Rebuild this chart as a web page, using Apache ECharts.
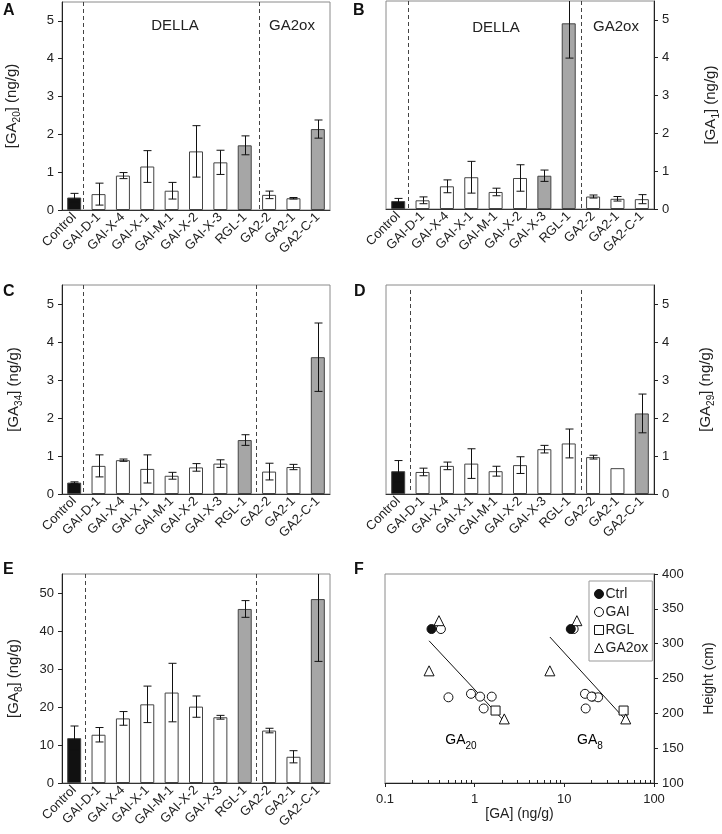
<!DOCTYPE html>
<html><head><meta charset="utf-8">
<script src="https://cdn.jsdelivr.net/npm/echarts@6/dist/echarts.min.js"></script>
<style>html,body{margin:0;padding:0;background:#fff}#c{width:722px;height:834px}</style>
</head><body><div id="c"></div>
<script>
// ---------- data ----------
const categories = ['Control','GAI-D-1','GAI-X-4','GAI-X-1','GAI-M-1','GAI-X-2','GAI-X-3','RGL-1','GA2-2','GA2-1','GA2-C-1'];
const ga20    = [0.33,0.42,0.91,1.15,0.51,1.55,1.26,1.71,0.40,0.31,2.14];
const ga20Err = [0.11,0.29,0.08,0.42,0.22,0.68,0.32,0.25,0.10,0.02,0.24];
const ga1     = [0.21,0.23,0.60,0.84,0.45,0.82,0.88,4.91,0.33,0.27,0.26];
const ga1Err  = [0.07,0.09,0.17,0.42,0.10,0.35,0.15,0.92,0.04,0.06,0.12];
const ga34    = [0.30,0.74,0.89,0.66,0.48,0.70,0.80,1.42,0.59,0.71,3.60];
const ga34Err = [0.02,0.29,0.03,0.37,0.09,0.10,0.10,0.14,0.22,0.07,0.90];
const ga29    = [0.60,0.58,0.74,0.80,0.60,0.76,1.18,1.33,0.97,0.68,2.12];
const ga29Err = [0.28,0.10,0.10,0.39,0.13,0.22,0.10,0.38,0.05,0.00,0.51];
const ga8     = [11.8,12.7,17.0,20.7,23.8,20.1,17.3,45.8,13.8,6.9,48.4];
const ga8Err  = [3.2,1.9,1.8,4.8,7.7,2.8,0.5,2.2,0.6,1.6,16.4];
const plantHeight = [321,321,228,224,223,224,207,204,333,261,192];
const lineGroup = ['Ctrl','GAI','GAI','GAI','GAI','GAI','GAI','RGL','GA2ox','GA2ox','GA2ox'];
const grayA = ['RGL-1','GA2-C-1'];
const grayB = ['GAI-X-3','RGL-1'];
const grayC = ['RGL-1','GA2-C-1'];
const grayD = ['GA2-C-1'];
const grayE = ['RGL-1','GA2-C-1'];
const sepA = [0.37,7.58];
const sepB = [0.39,7.5];
const sepC = [0.37,7.46];
const sepD = [0.48,7.49];
const sepE = [0.46,7.45];
const yTicks5 = [0,1,2,3,4,5];
const yTicksE = [0,10,20,30,40,50];
const fTicksY = [100,150,200,250,300,350,400];
const minorTicksX = [0.2,0.3,0.4,0.5,0.6,0.7,0.8,0.9,2,3,4,5,6,7,8,9,20,30,40,50,60,70,80,90];
const groupNames = ['Ctrl','GAI','RGL','GA2ox'];

// ---------- styling ----------
const FF = '"Liberation Sans", Arial, sans-serif';
const TXT = '#222';
function richFor(fs){
  return {
    n:{fontSize:fs, lineHeight:fs + 2, verticalAlign:'top', color:TXT, fontFamily:FF},
    s:{fontSize:Math.round(fs*0.68), lineHeight:Math.round(fs*0.68), verticalAlign:'top', padding:[Math.round(fs*0.55),0,0,0], color:TXT, fontFamily:FF}
  };
}
const nameRich = richFor(15);
const labRich = richFor(14);
function subName(pre, sub, post){ return '{n|'+pre+'}{s|'+sub+'}{n|'+post+'}'; }

const panels = [
  {vals:ga20, errs:ga20Err, gray:grayA, sep:sepA, inset:[0,0], ticks:yTicks5, max:5.5, side:'left',  nameGap:41, name:subName('[GA','20','] (ng/g)'), grid:{left:62, top:2, width:268, height:208}},
  {vals:ga1,  errs:ga1Err,  gray:grayB, sep:sepB, inset:[0,0], ticks:yTicks5, max:5.5, side:'right', nameGap:49, name:subName('[GA','1','] (ng/g)'),  grid:{left:386, top:1, width:268, height:208}},
  {vals:ga34, errs:ga34Err, gray:grayC, sep:sepC, inset:[0,0], ticks:yTicks5, max:5.5, side:'left',  nameGap:39, name:subName('[GA','34','] (ng/g)'), grid:{left:62, top:285, width:268, height:209}},
  {vals:ga29, errs:ga29Err, gray:grayD, sep:sepD, inset:[5,4], ticks:yTicks5, max:5.5, side:'right', nameGap:44, name:subName('[GA','29','] (ng/g)'), grid:{left:386, top:285, width:268, height:209}},
  {vals:ga8,  errs:ga8Err,  gray:grayE, sep:sepE, inset:[0,0], ticks:yTicksE, max:55,  side:'left',  nameGap:39, name:subName('[GA','8','] (ng/g)'),  grid:{left:62, top:574, width:268, height:209}}
];

const grids = [], xAxes = [], yAxes = [], series = [];
panels.forEach((p, i) => {
  grids.push(Object.assign({show:true, borderColor:'#8a8a8a', borderWidth:1, backgroundColor:'transparent'}, p.grid));
  xAxes.push({type:'category', gridIndex:i, data:categories, boundaryGap:true,
    axisLine:{show:true, lineStyle:{color:'#333', width:1}}, axisTick:{show:false},
    axisLabel:{interval:0, rotate:45, fontSize:13, color:TXT, fontFamily:FF, margin:5}});
  yAxes.push({type:'value', gridIndex:i, position:p.side, min:0, max:p.max, interval:p.ticks[1]-p.ticks[0],
    axisLine:{show:true, lineStyle:{color:'#222', width:1}},
    axisTick:{show:true, length:4, lineStyle:{color:'#222'}, customValues:p.ticks},
    axisLabel:{customValues:p.ticks, fontSize:13, color:TXT, fontFamily:FF, margin:8},
    splitLine:{show:false},
    name:p.name, nameLocation:'middle', nameRotate:90, nameGap:p.nameGap,
    nameTextStyle:{rich:nameRich}});
  // separators
  const sep = p.sep;
  series.push({type:'custom', xAxisIndex:i, yAxisIndex:i, silent:true, z:1,
    data: sep.map(v => [Math.floor(v), 0]),
    renderItem:(params, api) => {
      const v = sep[params.dataIndex];
      const i0 = Math.floor(v);
      const c = api.coord([i0, 0]);
      const bw = api.size([1, 0])[0];
      const x = Math.round(c[0] + (v - i0) * bw) + 0.5;
      const yt = api.coord([i0, p.max])[1] + p.inset[0];
      return {type:'line', shape:{x1:x, y1:yt, x2:x, y2:c[1] - p.inset[1]},
        style:{stroke:'#444', lineWidth:1, lineDash:[4,3]}};
    }});
  // bars
  series.push({type:'bar', xAxisIndex:i, yAxisIndex:i, barWidth:14, silent:true, z:2,
    itemStyle:{borderColor:'#444', borderWidth:1},
    data: p.vals.map((v, j) => ({value:v, itemStyle:{color: j === 0 ? '#111' : (p.gray.indexOf(categories[j]) >= 0 ? '#a6a6a6' : '#ffffff')}}))});
  // error bars
  series.push({type:'custom', xAxisIndex:i, yAxisIndex:i, silent:true, z:3,
    data: p.vals.map((v, j) => [j, v, p.errs[j]]),
    renderItem:(params, api) => {
      const x = api.value(0), v = api.value(1), e = api.value(2);
      if (!e) return null;
      const topLim = api.coord([x, p.max])[1];
      const t = api.coord([x, v + e]);
      const b = api.coord([x, Math.max(v - e, 0)]);
      const clipped = t[1] < topLim;
      const ty = clipped ? topLim : t[1];
      const cx = Math.round(t[0]) + 0.5, w = 4;
      const st = {stroke:'#111', lineWidth:1};
      const ch = [{type:'line', shape:{x1:cx, y1:ty, x2:cx, y2:b[1]}, style:st},
                  {type:'line', shape:{x1:cx - w, y1:b[1], x2:cx + w, y2:b[1]}, style:st}];
      if (!clipped) ch.push({type:'line', shape:{x1:cx - w, y1:ty, x2:cx + w, y2:ty}, style:st});
      return {type:'group', children:ch};
    }});
});

// ---------- panel F ----------
const fi = 5;
grids.push({show:true, borderColor:'#8a8a8a', borderWidth:1, left:385, top:574, width:269, height:209});
xAxes.push({type:'log', gridIndex:fi, logBase:10, min:0.1, max:100,
  axisLine:{show:true, lineStyle:{color:'#222'}},
  axisTick:{show:true, length:4, lineStyle:{color:'#222'}},
  axisLabel:{fontSize:13, color:TXT, fontFamily:FF, margin:10, formatter: v => String(+v.toPrecision(3))},
  splitLine:{show:false}, minorTick:{show:false},
  name:'[GA] (ng/g)', nameLocation:'middle', nameGap:24, nameTextStyle:{fontSize:14, color:TXT, fontFamily:FF}});
yAxes.push({type:'value', gridIndex:fi, position:'right', min:100, max:400, interval:50,
  axisLine:{show:true, lineStyle:{color:'#222'}},
  axisTick:{show:true, length:4, lineStyle:{color:'#222'}, customValues:fTicksY},
  axisLabel:{customValues:fTicksY, fontSize:13, color:TXT, fontFamily:FF, margin:8},
  splitLine:{show:false},
  name:'Height (cm)', nameLocation:'middle', nameRotate:90, nameGap:48, nameTextStyle:{fontSize:14, color:TXT, fontFamily:FF}});

// minor ticks for log axis
series.push({type:'custom', xAxisIndex:fi, yAxisIndex:fi, silent:true,
  data: minorTicksX.map(v => [v, 100]),
  renderItem:(params, api) => {
    const c = api.coord([api.value(0), 100]);
    const x = Math.round(c[0]) + 0.5;
    return {type:'line', shape:{x1:x, y1:c[1], x2:x, y2:c[1] - 3}, style:{stroke:'#222', lineWidth:1}};
  }});

function fitLine(xs, ys){
  const lx = xs.map(v => Math.log10(v));
  const n = lx.length;
  const mx = lx.reduce((a,b)=>a+b,0)/n, my = ys.reduce((a,b)=>a+b,0)/n;
  let sxy = 0, sxx = 0;
  for (let k = 0; k < n; k++){ sxy += (lx[k]-mx)*(ys[k]-my); sxx += (lx[k]-mx)*(lx[k]-mx); }
  const b = sxy / sxx, a = my - b * mx;
  const x0 = Math.min(...xs), x1 = Math.max(...xs);
  return [[x0, a + b*Math.log10(x0)], [x1, a + b*Math.log10(x1)]];
}
[ga20, ga8].forEach(arr => {
  series.push({type:'line', xAxisIndex:fi, yAxisIndex:fi, silent:true, symbol:'none', z:2,
    lineStyle:{color:'#111', width:1}, data: fitLine(arr, plantHeight)});
});

const symbolOf = {Ctrl:'circle', GAI:'circle', RGL:'rect', GA2ox:'triangle'};
const sizeOf = {Ctrl:9, GAI:9, RGL:9, GA2ox:10};
groupNames.forEach(g => {
  const pts = [];
  lineGroup.forEach((lg, j) => { if (lg === g) { pts.push([ga20[j], plantHeight[j]]); pts.push([ga8[j], plantHeight[j]]); } });
  series.push({type:'scatter', name:g, xAxisIndex:fi, yAxisIndex:fi, silent:true, z: g === 'Ctrl' ? 6 : 5,
    symbol:symbolOf[g], symbolSize:sizeOf[g],
    itemStyle:{color: g === 'Ctrl' ? '#111' : '#fff', borderColor:'#111', borderWidth:1, opacity:1},
    data:pts});
});

const graphic = [];
[['A',3,3],['B',353,3],['C',3,284],['D',354,284],['E',3,562],['F',354,562]].forEach(l => {
  graphic.push({type:'text', x:l[1], y:l[2], silent:true,
    style:{text:l[0], font:'bold 16px ' + FF, fill:'#111', verticalAlign:'top'}});
});
[['DELLA',175,26],['GA2ox',292,26],['DELLA',496,28],['GA2ox',616,27]].forEach(t => {
  graphic.push({type:'text', x:t[1], y:t[2], silent:true,
    style:{text:t[0], font:'15px ' + FF, fill:TXT, align:'center', verticalAlign:'middle'}});
});
[['20',461],['8',590]].forEach(t => {
  graphic.push({type:'text', x:t[1], y:733, silent:true,
    style:{text:'{n|GA}{s|' + t[0] + '}', align:'center', verticalAlign:'top', rich:labRich}});
});

const option = {
  animation:false,
  backgroundColor:'#fff',
  textStyle:{fontFamily:FF},
  grid:grids, xAxis:xAxes, yAxis:yAxes, series:series, graphic:graphic,
  legend:{data:groupNames, orient:'vertical', left:589, top:581, itemWidth:9, itemHeight:9, itemGap:4,
    padding:[6,4,6,5], borderColor:'#999', borderWidth:1, backgroundColor:'#fff', selectedMode:false,
    itemStyle:{borderWidth:1},
    textStyle:{fontSize:14, color:TXT, fontFamily:FF, padding:[0,0,0,-3]}}
};
const chart = echarts.init(document.getElementById('c'));
chart.setOption(option);
</script>
</body></html>
